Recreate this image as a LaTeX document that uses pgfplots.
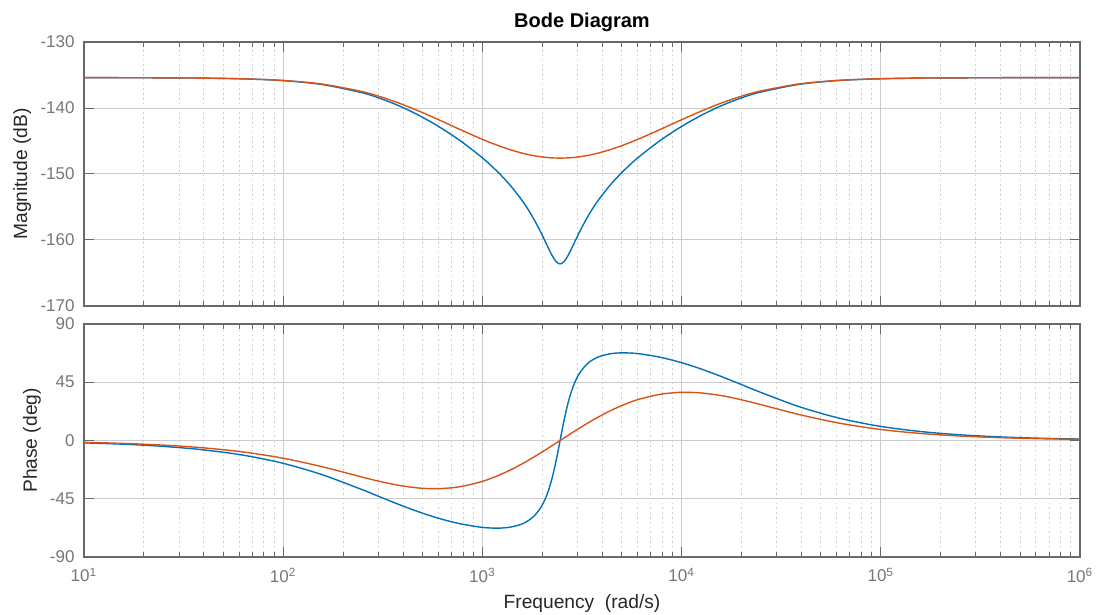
\documentclass[border=0pt]{standalone}
\usepackage{fontspec}
\setmainfont{Liberation Sans}
\usepackage{pgfplots}
\pgfplotsset{compat=1.18}
\usepackage{pgfplotstable}

\definecolor{mblue}{RGB}{0,114,189}
\definecolor{morange}{RGB}{217,83,25}
\definecolor{axgray}{RGB}{105,105,105}
\definecolor{labgray}{RGB}{118,118,118}

% w = frequency (rad/s), magnitude in dB, phase in deg
\pgfplotstableread{
w        magB     magO     phB     phO
9.772    -135.40  -135.40  -1.78   -1.40
15.488   -135.41  -135.41  -2.83   -2.22
24.547   -135.43  -135.43  -4.47   -3.51
38.905   -135.47  -135.47  -7.07   -5.54
61.660   -135.58  -135.57  -11.11  -8.69
97.724   -135.83  -135.81  -17.27  -13.43
154.88   -136.42  -136.35  -26.13  -20.06
245.47   -137.64  -137.47  -37.60  -28.01
309.03   -138.58  -138.31  -43.84  -31.81
389.05   -139.78  -139.36  -49.98  -34.91
489.78   -141.25  -140.58  -55.65  -36.84
616.60   -142.98  -141.91  -60.54  -37.18
776.25   -144.98  -143.29  -64.39  -35.63
977.24   -147.30  -144.62  -66.94  -32.03
1096.5   -148.62  -145.24  -67.58  -29.45
1230.3   -150.08  -145.81  -67.66  -26.36
1380.4   -151.73  -146.32  -66.94  -22.80
1548.8   -153.63  -146.76  -64.99  -18.82
1640.6   -154.71  -146.95  -63.30  -16.68
1737.8   -155.89  -147.12  -60.90  -14.46
1840.8   -157.20  -147.26  -57.47  -12.17
1949.8   -158.63  -147.38  -52.51  -9.81
1995.3   -159.24  -147.42  -49.94  -8.85
2041.7   -159.87  -147.45  -46.93  -7.89
2089.3   -160.51  -147.49  -43.42  -6.92
2138.0   -161.14  -147.51  -39.31  -5.94
2187.8   -161.77  -147.54  -34.52  -4.96
2238.7   -162.35  -147.56  -28.98  -3.97
2290.9   -162.86  -147.57  -22.66  -2.98
2344.2   -163.26  -147.58  -15.61  -1.99
2398.8   -163.53  -147.59  -7.97   -0.99
2454.7   -163.62  -147.59  0.00    0.00
2511.9   -163.53  -147.59  7.97    0.99
2570.4   -163.26  -147.58  15.61   1.99
2630.3   -162.86  -147.57  22.66   2.98
2691.5   -162.35  -147.56  28.98   3.97
2754.2   -161.77  -147.54  34.52   4.96
2818.4   -161.14  -147.51  39.31   5.94
2884.0   -160.51  -147.49  43.42   6.92
2951.2   -159.87  -147.45  46.93   7.89
3019.95  -159.24  -147.42  49.94   8.85
3090.3   -158.63  -147.38  52.51   9.81
3273.4   -157.20  -147.26  57.47   12.17
3467.4   -155.89  -147.12  60.90   14.46
3672.8   -154.71  -146.95  63.30   16.68
3890.5   -153.63  -146.76  64.99   18.82
4365.2   -151.73  -146.32  66.94   22.80
4897.8   -150.08  -145.81  67.66   26.36
5495.4   -148.62  -145.24  67.58   29.45
6166.0   -147.30  -144.62  66.94   32.03
7762.5   -144.98  -143.29  64.39   35.63
9772.4   -142.98  -141.91  60.54   37.18
12303    -141.25  -140.58  55.65   36.84
15488    -139.78  -139.36  49.98   34.91
19498    -138.58  -138.31  43.84   31.81
24547    -137.64  -137.47  37.60   28.01
38905    -136.42  -136.35  26.13   20.06
61660    -135.83  -135.81  17.27   13.43
97724    -135.58  -135.57  11.11   8.69
154882   -135.47  -135.47  7.07    5.54
245471   -135.43  -135.43  4.47    3.51
389045   -135.41  -135.41  2.83    2.22
616595   -135.40  -135.40  1.78    1.40
1000000  -135.40  -135.40  1.10    0.86
}\bode

\pgfplotsset{
  bodeax/.style={
    scale only axis,
    width=498pt,
    xmin=10, xmax=1e6,
    axis line style={draw=axgray, line width=0.6pt},
    every tick/.style={draw=axgray, line width=0.5pt},
    major tick length=5pt, minor tick length=2.5pt,
    xmajorgrids, xminorgrids, ymajorgrids,
    major grid style={draw=black!20, line width=0.5pt},
    minor grid style={draw=black!20, dash pattern=on 0.8pt off 1.6pt, line width=0.5pt},
    tick label style={font=\fontsize{8.5}{10}\selectfont, text=labgray},
    /pgf/number format/assume math mode=true,
    yticklabel style={xshift=-1.2pt},
    label style={font=\fontsize{9.6}{11}\selectfont, text=black!85},
    every axis plot/.append style={line width=0.7pt, smooth},
    xtick={10,100,1000,10000,100000,1000000},
  }
}

\begin{document}
\begin{tikzpicture}
\begin{axis}[xmode=log, bodeax,
    at={(42pt,154.5pt)}, anchor=south west,
    height=132pt,
    ymin=-170, ymax=-130,
    ytick={-170,-160,-150,-140,-130},
    xticklabels={},
    ylabel={Magnitude (dB)},
    ylabel style={at={(axis description cs:-0.0622,0.5)}, anchor=center},
    title={Bode Diagram},
    title style={at={(axis description cs:0.5,1)}, anchor=center, yshift=4pt,
      font=\bfseries\fontsize{10}{12}\selectfont, text=black},
  ]
  \addplot[mblue] table[x=w, y=magB] {\bode};
  \addplot[morange] table[x=w, y=magO] {\bode};
\end{axis}

\begin{axis}[xmode=log, bodeax,
    at={(42pt,29pt)}, anchor=south west,
    height=116.5pt,
    ymin=-90, ymax=90,
    ytick={-90,-45,0,45,90},
    xticklabels={10\textsuperscript{1},10\textsuperscript{2},10\textsuperscript{3},10\textsuperscript{4},10\textsuperscript{5},10\textsuperscript{6}},
    xticklabel style={yshift=-2pt},
    ylabel={Phase (deg)},
    ylabel style={at={(axis description cs:-0.0522,0.5)}, anchor=center},
    xlabel={Frequency\hspace{0.55em}(rad/s)},
    xlabel style={at={(axis description cs:0.5,0)}, anchor=center, yshift=-23.5pt},
  ]
  \addplot[mblue] table[x=w, y=phB] {\bode};
  \addplot[morange] table[x=w, y=phO] {\bode};
\end{axis}

\pgfresetboundingbox
\path[use as bounding box] (0,0) rectangle (548.5pt,307.5pt);
\end{tikzpicture}
\end{document}
